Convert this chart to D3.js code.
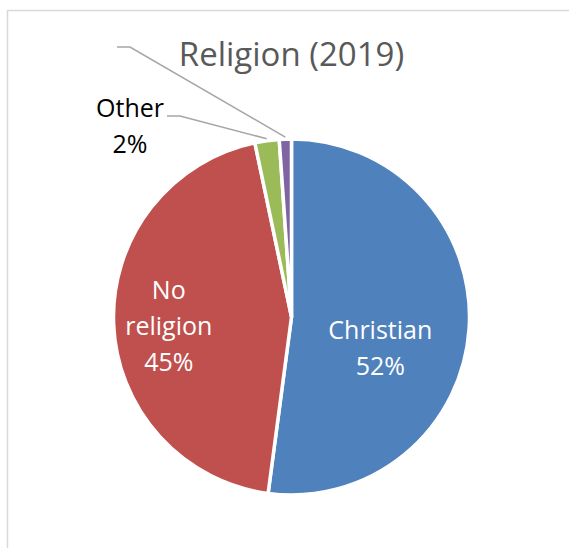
<!DOCTYPE html>
<html>
<head>
<meta charset="utf-8">
<script src="https://cdn.jsdelivr.net/npm/d3@7/dist/d3.min.js"></script>
<style>
body { margin: 0; background: #fff; }
svg { display: block; font-family: "Open Sans", sans-serif; }
</style>
</head>
<body>
<svg id="chart" width="569" height="548"></svg>
<script>
var chartTitle = "Religion (2019)";
var categories = ["Christian", "No religion", "Other", ""];
var values = [52.1, 44.6, 2.2, 1.1];
var colors = ["#4F81BD", "#C0504D", "#9BBB59", "#8064A2"];

// how each label is placed: inside the slice, or outside with a leader line
var labelLayout = [
	{ inside: true, r: 0.5, dy: 25, lines: ["Christian"] },
	{ inside: true, r: 0.69, dy: 4, lines: ["No", "religion"] },
	{ inside: false, elbow: [180, 116], lines: ["Other"] },
	{ inside: false, elbow: [130, 47], lines: [] }
];

var svg = d3.select("#chart"),
	cx = 291.5,
	cy = 317,
	radius = 178;

// chart area border (runs off the right and bottom of the window)
svg.append("rect")
	.attr("x", 7.5).attr("y", 10.5)
	.attr("width", 620).attr("height", 620)
	.attr("fill", "none")
	.attr("stroke", "#d9d9d9")
	.attr("stroke-width", 1.5);

svg.append("text")
	.attr("x", cx).attr("y", 66)
	.attr("text-anchor", "middle")
	.attr("font-size", 33)
	.attr("fill", "#595959")
	.text(chartTitle);

var data = categories.map(function(c, i) { return { name: c, value: values[i] }; });

var pie = d3.pie()
	.sort(null)
	.value(function(d) { return d.value; });

var arcs = pie(data);

var arc = d3.arc().innerRadius(0).outerRadius(radius);

var g = svg.append("g").attr("transform", "translate(" + cx + "," + cy + ")");

g.selectAll("path.slice")
	.data(arcs)
	.enter().append("path")
	.attr("class", "slice")
	.attr("d", arc)
	.attr("fill", function(d, i) { return colors[i]; })
	.attr("stroke", "#fff")
	.attr("stroke-width", 3.5);

var lineH = 36;

arcs.forEach(function(d, i) {
	var lay = labelLayout[i];
	var pct = Math.round(d.data.value) + "%";
	if (lay.inside) {
		var la = d3.arc().innerRadius(radius * lay.r).outerRadius(radius * lay.r);
		var c = la.centroid(d);
		var lines = lay.lines.concat([pct]);
		var top = c[1] + lay.dy - (lines.length - 1) * lineH / 2;
		var t = g.append("text")
			.attr("text-anchor", "middle")
			.attr("font-size", 25)
			.attr("fill", "#fff");
		lines.forEach(function(s, k) {
			t.append("tspan")
				.attr("x", c[0])
				.attr("y", top + k * lineH + 9)
				.text(s);
		});
	} else {
		// leader line from slice edge to elbow, then a short horizontal run
		var edge = d3.arc().innerRadius(radius + 2).outerRadius(radius + 2).centroid(d);
		var ex = lay.elbow[0] - cx, ey = lay.elbow[1] - cy;
		g.append("polyline")
			.attr("points", [[edge[0], edge[1]], [ex, ey], [ex - 13, ey]].map(function(p) { return p.join(","); }).join(" "))
			.attr("fill", "none")
			.attr("stroke", "#a6a6a6")
			.attr("stroke-width", 1.5);
		if (lay.lines.length) {
			var lx = ex - 50, ly = ey + 1;
			var t2 = g.append("text")
				.attr("text-anchor", "middle")
				.attr("font-size", 25)
				.attr("fill", "#000");
			lay.lines.concat([pct]).forEach(function(s, k) {
				t2.append("tspan")
					.attr("x", lx)
					.attr("y", ly + k * lineH)
					.text(s);
			});
		}
	}
});
</script>
</body>
</html>
